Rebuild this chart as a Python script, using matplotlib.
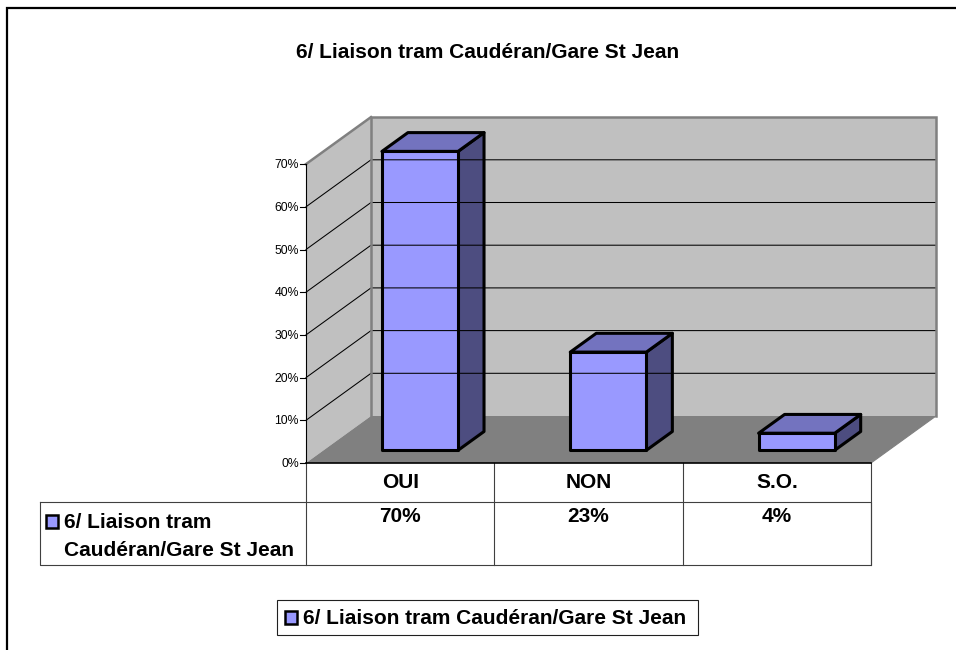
#!/usr/bin/env python3
"""Excel-style 3D column chart with data table: liaison tram Caudéran/Gare St Jean."""
import matplotlib
matplotlib.use("Agg")
import matplotlib.pyplot as plt
from matplotlib.patches import Polygon, Rectangle

plt.rcParams["font.family"] = ["Liberation Sans", "DejaVu Sans"]

TITLE = "6/ Liaison tram Caudéran/Gare St Jean"
categories = ["OUI", "NON", "S.O."]
values = [70, 23, 4]
value_labels = ["70%", "23%", "4%"]
ticks = [0, 10, 20, 30, 40, 50, 60, 70]
table_label = ["6/ Liaison tram", "Caudéran/Gare St Jean"]

# chart geometry, in pixels of the 956x650 picture
X0, Y0, CELL = 306.0, 463.0, 188.33
PX_PER_PCT = 4.27
DX, DY = 65.0, -47.0
TOP = 70
BAR_W = 0.404
BAR_SHIFT = 0.012
D_FRONT, D_BACK = 0.27, 0.67
WALL, FLOOR = "#C0C0C0", "#808080"
FRONT, ROOF, SIDE = "#9999FF", "#7373BF", "#4D4D80"
BOLD = dict(fontsize=15, fontweight="bold", va="center")


def pt(cat, val, depth=0.0):
    # cat in category units, val in percent, depth 0 (front) to 1 (back)
    return (X0 + cat * CELL + depth * DX, Y0 - val * PX_PER_PCT + depth * DY)


def main():
    fig = plt.figure(figsize=(9.56, 6.5), dpi=100)
    ax = fig.add_axes([0, 0, 1, 1])
    ax.set_xlim(0, 956); ax.set_ylim(650, 0); ax.axis("off")
    n = len(categories)

    # outer frame, cut by the picture on the right and bottom
    ax.plot([7, 7, 956], [650, 8, 8], color="k", lw=1.6, solid_joinstyle="miter")
    ax.text(488, 52, TITLE, ha="center", **BOLD)

    # walls and floor
    ax.add_patch(Polygon([pt(0, 0), pt(0, TOP), pt(0, TOP, 1), pt(0, 0, 1)], fc=WALL, ec="none"))
    ax.add_patch(Polygon([pt(0, 0, 1), pt(0, TOP, 1), pt(n, TOP, 1), pt(n, 0, 1)], fc=WALL, ec="none"))
    ax.add_patch(Polygon([pt(0, 0), pt(0, 0, 1), pt(n, 0, 1), pt(n, 0)], fc=FLOOR, ec="none"))
    for t in ticks[1:-1]:
        ax.plot(*zip(pt(0, t), pt(0, t, 1), pt(n, t, 1)), color="k", lw=0.75)
    wall_edge = [pt(0, 0, 1), pt(0, TOP, 1), pt(n, TOP, 1), pt(n, 0, 1)]
    ax.plot(*zip(*wall_edge), color="#808080", lw=1.8, solid_joinstyle="miter")
    ax.plot(*zip(pt(0, TOP), pt(0, TOP, 1)), color="#808080", lw=1.8)
    ax.plot(*zip(pt(n, 0), pt(n, 0, 1)), color="#808080", lw=0.8)

    # value axis
    for t in ticks:
        ax.plot(*zip((pt(0, t)[0] - 6, pt(0, t)[1]), pt(0, t)), color="k", lw=0.8)
        ax.text(pt(0, t)[0] - 7, pt(0, t)[1] + 1, f"{t}%", ha="right", va="center", fontsize=8.8)

    # columns
    for i, v in enumerate(values):
        l, r = i + 0.5 + BAR_SHIFT - BAR_W / 2, i + 0.5 + BAR_SHIFT + BAR_W / 2
        style = dict(ec="k", lw=2.2, joinstyle="round")
        ax.add_patch(Polygon([pt(r, 0, D_FRONT), pt(r, v, D_FRONT), pt(r, v, D_BACK), pt(r, 0, D_BACK)], fc=SIDE, **style))
        ax.add_patch(Polygon([pt(l, v, D_FRONT), pt(l, v, D_BACK), pt(r, v, D_BACK), pt(r, v, D_FRONT)], fc=ROOF, **style))
        ax.add_patch(Polygon([pt(l, 0, D_FRONT), pt(l, v, D_FRONT), pt(r, v, D_FRONT), pt(r, 0, D_FRONT)], fc=FRONT, **style))

    # data table
    line = dict(color="#404040", lw=0.8)
    right = pt(n, 0)[0]
    ax.plot([40, right, right, 40, 40], [502, 502, 565, 565, 502], **line)
    for i in range(n + 1):
        x = pt(i, 0)[0]
        ax.plot([x, x], [463, 565], **line)
    ax.plot(*zip(pt(0, 0), pt(n, 0)), color="k", lw=1.2)
    ax.plot(*zip(pt(0, 0), pt(0, TOP)), color="k", lw=0.8)
    for i, (c, lab) in enumerate(zip(categories, value_labels)):
        x = pt(i + 0.5, 0)[0]
        ax.text(x, 483, c, ha="center", **BOLD)
        ax.text(x, 516, lab, ha="center", **BOLD)
    ax.add_patch(Rectangle((46, 515), 12, 13, fc=FRONT, ec="k", lw=1.8))
    ax.text(64, 522, table_label[0], ha="left", **BOLD)
    ax.text(64, 550, table_label[1], ha="left", **BOLD)

    # legend
    ax.add_patch(Rectangle((277, 600), 421, 35, fc="w", ec="#202020", lw=0.8))
    ax.add_patch(Rectangle((285, 611), 12, 13, fc=FRONT, ec="k", lw=1.8))
    ax.text(303, 619, TITLE, ha="left", **BOLD)

    fig.savefig("out.png", dpi=100)
    plt.close()


if __name__ == "__main__":
    main()
